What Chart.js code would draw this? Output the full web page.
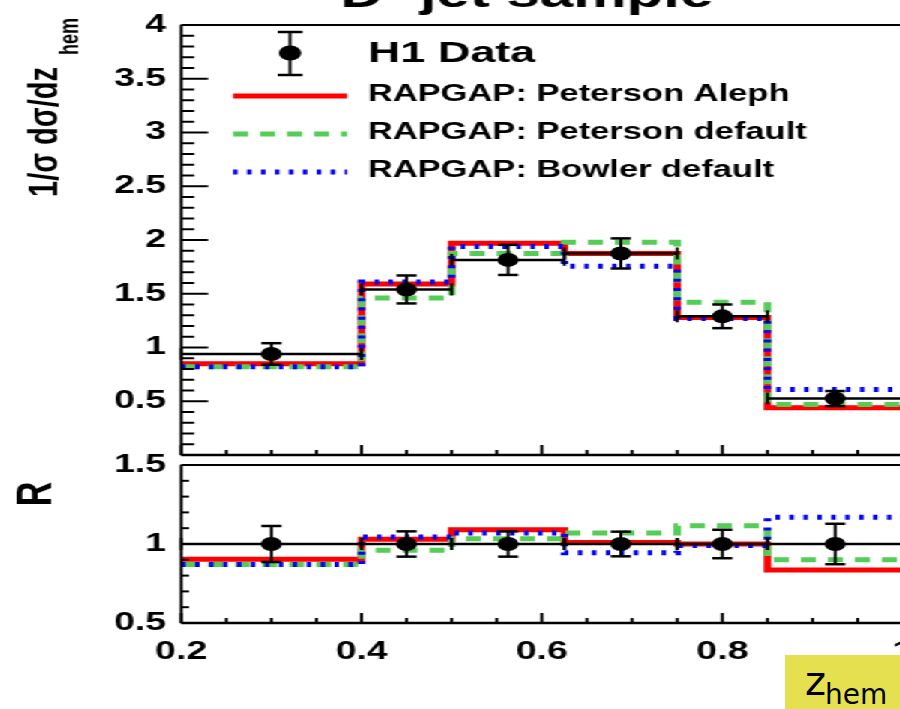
<!DOCTYPE html>
<html>
<head>
<meta charset="utf-8">
<script src="https://cdn.jsdelivr.net/npm/chart.js@4.4.0/dist/chart.umd.min.js"></script>
<style>
  html, body { margin: 0; padding: 0; background: #fff; overflow: hidden; width: 900px; height: 709px; }
  /* the original plot is stretched horizontally by about 1.5 */
  #wrap { position: absolute; left: 0; top: 0; width: 610px; height: 709px; transform: scaleX(1.5); transform-origin: 0 0; }
  #upper { position: absolute; left: 0; top: 0; }
  #lower { position: absolute; left: 0; top: 440px; }
  #zlabel { position: absolute; left: 785px; top: 655px; width: 130px; height: 60px; background: #e5e04f; font-family: "DejaVu Sans", sans-serif; color: #000; }
  #zlabel .z { position: absolute; left: 20px; top: 6px; font-size: 40px; line-height: 40px; }
  #zlabel .sub { position: absolute; left: 40px; top: 26px; font-size: 28px; line-height: 28px; }
</style>
</head>
<body>
<div id="wrap">
  <canvas id="upper" width="610" height="480"></canvas>
  <canvas id="lower" width="610" height="269"></canvas>
</div>
<div id="zlabel"><span class="z">z</span><span class="sub">hem</span></div>

<script>
// ---- data ----
const binEdges = [0.2, 0.4, 0.5, 0.625, 0.75, 0.85, 1.0];
const binCenters = [0.3, 0.45, 0.5625, 0.6875, 0.8, 0.925];

const h1Data = [0.94, 1.54, 1.815, 1.875, 1.29, 0.525];
const h1Err = [0.10, 0.13, 0.14, 0.14, 0.11, 0.07];
const petersonAleph = [0.85, 1.59, 1.97, 1.875, 1.28, 0.44];
const petersonDefault = [0.82, 1.46, 1.875, 1.98, 1.42, 0.47];
const bowlerDefault = [0.82, 1.61, 1.94, 1.755, 1.27, 0.61];

const ratioData = [1, 1, 1, 1, 1, 1];
const ratioErr = [0.114, 0.08, 0.08, 0.078, 0.09, 0.128];
const ratioAleph = [0.903, 1.03, 1.09, 1.01, 1.0, 0.836];
const ratioPetDefault = [0.87, 0.96, 1.034, 1.07, 1.115, 0.90];
const ratioBowler = [0.87, 1.044, 1.07, 0.944, 0.99, 1.17];

const xTicks = [0.2, 0.4, 0.6, 0.8, 1.0];
const yTicksUpper = [0.5, 1, 1.5, 2, 2.5, 3, 3.5, 4];
const yTicksRatio = [0.5, 1, 1.5];

const seriesLabels = ['H1 Data', 'RAPGAP: Peterson Aleph', 'RAPGAP: Peterson default', 'RAPGAP: Bowler default'];

const RED = '#ff0000', GREEN = '#55cc55', BLUE = '#0000ff';
const FONT = '"Liberation Sans", Arial, sans-serif';

// histogram outline: flat across each bin, vertical at the edges
function steps(vals) {
  const pts = [];
  vals.forEach((v, i) => { pts.push({ x: binEdges[i], y: v }, { x: binEdges[i + 1], y: v }); });
  return pts;
}

function model(label, vals, color, dash, order) {
  return {
    label: label, data: steps(vals), showLine: true,
    borderColor: color, borderWidth: 5, borderDash: dash,
    pointRadius: 0, pointHoverRadius: 0, fill: false, order: order
  };
}

function dataSet(label, vals, errs) {
  return {
    label: label, data: binCenters.map((x, i) => ({ x: x, y: vals[i] })),
    errors: errs, backgroundColor: '#000', borderWidth: 0,
    pointRadius: 7, pointHoverRadius: 7, order: 0
  };
}

function line(ctx, x1, y1, x2, y2) {
  ctx.beginPath(); ctx.moveTo(x1, y1); ctx.lineTo(x2, y2); ctx.stroke();
}

// bin-width bars and error bars under the data markers
const errorBars = {
  id: 'errorBars',
  beforeDatasetDraw(chart, args) {
    const ds = chart.data.datasets[args.index];
    if (!ds.errors) return;
    const { ctx, scales: { x, y } } = chart;
    ctx.save();
    ctx.strokeStyle = '#000';
    ds.data.forEach((p, i) => {
      const lo = x.getPixelForValue(binEdges[i]), hi = x.getPixelForValue(binEdges[i + 1]);
      const px = x.getPixelForValue(p.x), py = y.getPixelForValue(p.y);
      const yt = y.getPixelForValue(p.y + ds.errors[i]), yb = y.getPixelForValue(p.y - ds.errors[i]);
      ctx.lineWidth = 2.5;
      line(ctx, lo, py, hi, py);
      ctx.lineWidth = 2;
      line(ctx, lo, py - 6, lo, py + 6);
      line(ctx, hi, py - 6, hi, py + 6);
      line(ctx, px, yt, px, yb);
      ctx.lineWidth = 2.5;
      line(ctx, px - 6.7, yt, px + 6.7, yt);
      line(ctx, px - 6.7, yb, px + 6.7, yb);
    });
    ctx.restore();
  }
};

// ROOT style frame with ticks pointing inwards
const frameTicks = {
  id: 'frameTicks',
  afterDraw(chart, args, o) {
    const { ctx, chartArea: a, scales: { x, y } } = chart;
    ctx.save();
    ctx.strokeStyle = '#000';
    ctx.lineWidth = 2;
    let n = Math.round((y.max - y.min) / o.yMinor);
    for (let i = 0; i <= n; i++) {
      const v = y.min + i * o.yMinor;
      const major = Math.abs(v / o.yMajor - Math.round(v / o.yMajor)) < 1e-6;
      const py = y.getPixelForValue(v);
      line(ctx, a.left, py, a.left + (major ? o.yMajorLen : o.yMinorLen), py);
    }
    n = Math.round((x.max - x.min) / o.xMinor);
    for (let i = 0; i <= n; i++) {
      const v = x.min + i * o.xMinor;
      const major = Math.abs(v / o.xMajor - Math.round(v / o.xMajor)) < 1e-6;
      const px = x.getPixelForValue(v);
      line(ctx, px, a.bottom, px, a.bottom - (major ? o.xMajorLen : o.xMinorLen));
    }
    ctx.lineWidth = 2;
    line(ctx, a.left, a.top, a.left, a.bottom);
    line(ctx, a.left, a.top, a.right, a.top);
    ctx.lineWidth = 2.5;
    line(ctx, a.left, a.bottom, a.right, a.bottom);
    ctx.restore();
  }
};

// title, y title and legend of the upper pad
const upperText = {
  id: 'upperText',
  afterDraw(chart) {
    const ctx = chart.ctx;
    ctx.save();
    ctx.fillStyle = '#000';
    ctx.textBaseline = 'alphabetic';
    ctx.font = 'bold 40px ' + FONT;
    ctx.fillText('D', 226.7, 7);
    ctx.font = 'bold 26px ' + FONT;
    ctx.fillText('*', 257, -10);
    ctx.font = 'bold 40px ' + FONT;
    ctx.fillText('jet sample', 280, 7);

    // y axis title, rotated
    ctx.save();
    ctx.translate(38, 197);
    ctx.rotate(-Math.PI / 2);
    ctx.font = 'bold 27px ' + FONT;
    const main = '1/\u03c3 d\u03c3/dz';
    const w = ctx.measureText(main).width;
    ctx.save();
    ctx.scale(130 / w, 1);
    ctx.fillText(main, 0, 0);
    ctx.restore();
    ctx.font = 'bold 18px ' + FONT;
    ctx.fillText('hem', 142, 14);
    ctx.restore();

    // legend
    const mx = 193.3, my = 53;
    ctx.strokeStyle = '#000';
    ctx.lineWidth = 2;
    line(ctx, mx, 32, mx, 75);
    ctx.lineWidth = 2.5;
    line(ctx, mx - 8.3, 32, mx + 8.3, 32);
    line(ctx, mx - 8.3, 75, mx + 8.3, 75);
    ctx.beginPath(); ctx.arc(mx, my, 7.5, 0, Math.PI * 2); ctx.fill();
    ctx.textBaseline = 'middle';
    ctx.font = 'bold 30px ' + FONT;
    ctx.fillText(chart.data.datasets[0].label, 245.3, 54);

    const rows = [[3, 96, RED, []], [2, 134, GREEN, [10, 8]], [1, 172, BLUE, [3, 6.3]]];
    ctx.font = 'bold 23px ' + FONT;
    rows.forEach(r => {
      const ds = chart.data.datasets[r[0]];
      ctx.strokeStyle = r[2];
      ctx.lineWidth = 5;
      ctx.setLineDash(r[3]);
      line(ctx, 155.3, r[1], 231.3, r[1]);
      ctx.setLineDash([]);
      ctx.fillText(ds.label, 245.3, r[1] - 1);
    });
    ctx.restore();
  }
};

const lowerText = {
  id: 'lowerText',
  afterDraw(chart) {
    const ctx = chart.ctx;
    ctx.save();
    ctx.fillStyle = '#000';
    ctx.translate(24.7, 54);
    ctx.rotate(-Math.PI / 2);
    ctx.font = 'bold 34px ' + FONT;
    ctx.textAlign = 'center';
    ctx.textBaseline = 'middle';
    ctx.fillText('R', 0, 0);
    ctx.restore();
  }
};

const tickFont = { family: FONT, size: 25, weight: 'bold' };

function yScale(min, max, ticks) {
  return {
    type: 'linear', min: min, max: max,
    afterFit: s => { s.width = 120.67; },
    afterBuildTicks: s => { s.ticks = ticks.map(v => ({ value: v })); },
    ticks: { color: '#000', font: tickFont, padding: 10, callback: v => String(v) },
    grid: { display: false, drawTicks: false },
    border: { display: false }
  };
}

new Chart(document.getElementById('upper'), {
  type: 'scatter',
  data: {
    datasets: [
      dataSet(seriesLabels[0], h1Data, h1Err),
      model(seriesLabels[3], bowlerDefault, BLUE, [3, 6.3], 1),
      model(seriesLabels[2], petersonDefault, GREEN, [10, 8], 2),
      model(seriesLabels[1], petersonAleph, RED, [], 3)
    ]
  },
  options: {
    responsive: false, animation: false, events: [],
    layout: { padding: { top: 18, right: 8, bottom: 20, left: 0 } },
    scales: {
      x: { type: 'linear', min: 0.2, max: 1.0, display: false },
      y: yScale(0, 4, yTicksUpper)
    },
    plugins: {
      legend: { display: false }, tooltip: { enabled: false },
      frameTicks: { yMajor: 0.5, yMinor: 0.1, yMajorLen: 18, yMinorLen: 8.7, xMajor: 0.2, xMinor: 0.05, xMajorLen: 10, xMinorLen: 5 }
    }
  },
  plugins: [errorBars, frameTicks, upperText]
});

new Chart(document.getElementById('lower'), {
  type: 'scatter',
  data: {
    datasets: [
      dataSet(seriesLabels[0], ratioData, ratioErr),
      model(seriesLabels[3], ratioBowler, BLUE, [3, 6.3], 1),
      model(seriesLabels[2], ratioPetDefault, GREEN, [10, 8], 2),
      model(seriesLabels[1], ratioAleph, RED, [], 3)
    ]
  },
  options: {
    responsive: false, animation: false, events: [],
    layout: { padding: { top: 20, right: 8, bottom: 0, left: 0 } },
    scales: {
      x: {
        type: 'linear', min: 0.2, max: 1.0,
        afterFit: s => { s.height = 86; s.paddingLeft = 0; s.paddingRight = 0; },
        afterBuildTicks: s => { s.ticks = xTicks.map(v => ({ value: v })); },
        ticks: { color: '#000', font: tickFont, padding: 14, maxRotation: 0, callback: v => String(+v.toFixed(1)) },
        grid: { display: false, drawTicks: false },
        border: { display: false }
      },
      y: yScale(0.5, 1.5, yTicksRatio)
    },
    plugins: {
      legend: { display: false }, tooltip: { enabled: false },
      frameTicks: { yMajor: 0.5, yMinor: 0.1, yMajorLen: 10.7, yMinorLen: 5.3, xMajor: 0.2, xMinor: 0.05, xMajorLen: 10, xMinorLen: 5 }
    }
  },
  plugins: [errorBars, frameTicks, lowerText]
});
</script>
</body>
</html>
